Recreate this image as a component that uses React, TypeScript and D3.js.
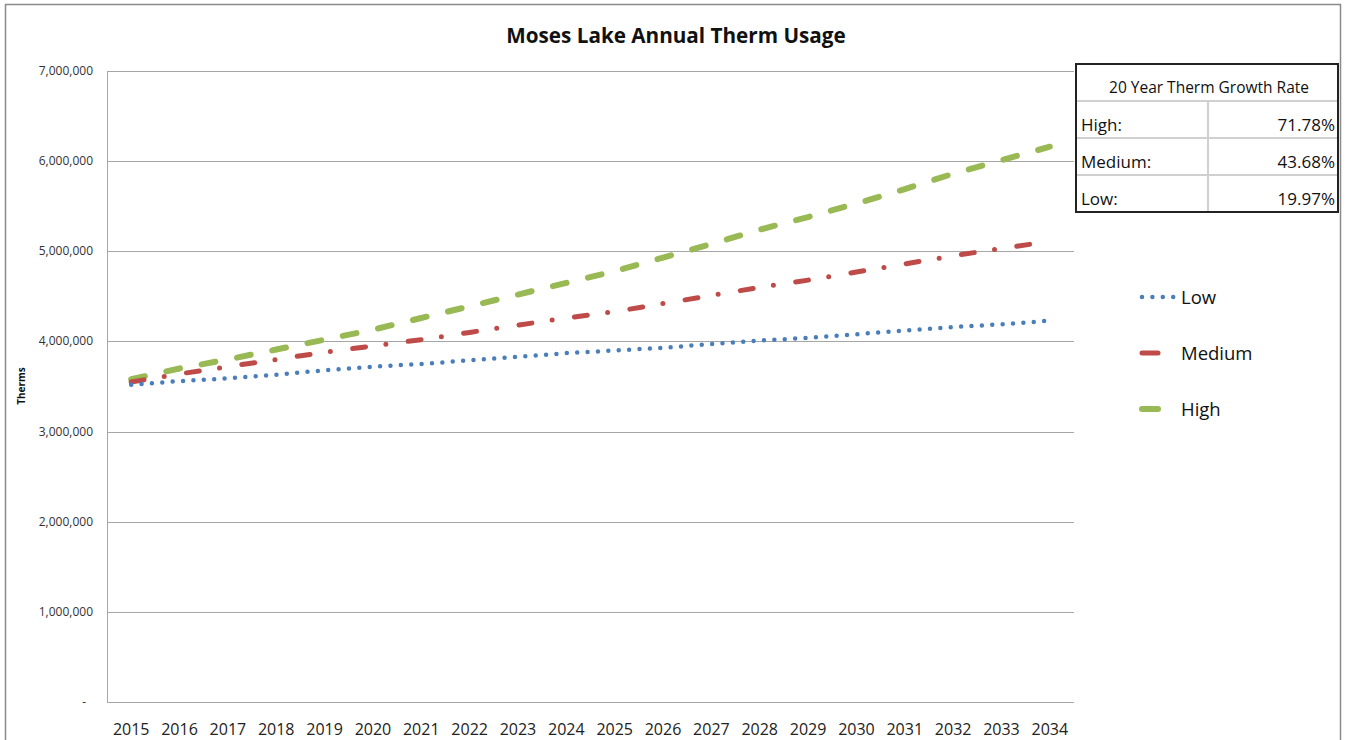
import { useEffect, useRef } from 'react';
import * as d3 from 'd3';

const years = ['2015', '2016', '2017', '2018', '2019', '2020', '2021', '2022', '2023', '2024',
    '2025', '2026', '2027', '2028', '2029', '2030', '2031', '2032', '2033', '2034'];
const lowValues = [3520000, 3560000, 3590000, 3630000, 3680000, 3720000, 3750000, 3790000, 3830000, 3870000,
    3900000, 3930000, 3970000, 4010000, 4040000, 4080000, 4120000, 4160000, 4190000, 4230000];
const mediumValues = [3550000, 3640000, 3720000, 3800000, 3880000, 3950000, 4020000, 4100000, 4180000, 4260000,
    4330000, 4420000, 4510000, 4600000, 4680000, 4770000, 4860000, 4950000, 5030000, 5110000];
const highValues = [3580000, 3700000, 3800000, 3910000, 4020000, 4130000, 4260000, 4390000, 4520000, 4650000,
    4780000, 4930000, 5080000, 5240000, 5380000, 5530000, 5690000, 5860000, 6010000, 6160000];
const yTicks = [0, 1000000, 2000000, 3000000, 4000000, 5000000, 6000000, 7000000];
const growthLabels = ['High:', 'Medium:', 'Low:'];
const growthRates = ['71.78%', '43.68%', '19.97%'];

const FONT = "'Open Sans', sans-serif";

export default function App() {
    const ref = useRef<SVGSVGElement>(null);

    useEffect(() => {
        const svg = d3.select(ref.current);
        svg.selectAll('*').remove();

        const width = 1348;
        const height = 740;
        const margin = { top: 71, right: 274, bottom: 38, left: 107 };
        const plotW = width - margin.left - margin.right;
        const plotH = height - margin.top - margin.bottom;

        svg.append('rect').attr('width', width).attr('height', height).attr('fill', '#fff');
        // outer chart frame
        svg.append('rect')
            .attr('x', 5.5).attr('y', 4.5).attr('width', 1335).attr('height', 780)
            .attr('fill', 'none').attr('stroke', '#8a8a8a').attr('stroke-width', 1.5);

        const x = d3.scaleBand().domain(years).range([0, plotW]);
        const y = d3.scaleLinear().domain([0, 7000000]).range([plotH, 0]);

        const g = svg.append('g').attr('transform', `translate(${margin.left},${margin.top})`);

        // gridlines
        g.selectAll('line.grid')
            .data(yTicks)
            .join('line')
            .attr('class', 'grid')
            .attr('x1', 0).attr('x2', plotW)
            .attr('y1', (d) => Math.round(y(d)) + 0.5).attr('y2', (d) => Math.round(y(d)) + 0.5)
            .attr('stroke', '#a6a6a6').attr('stroke-width', 1);
        g.append('line')
            .attr('x1', 0.5).attr('x2', 0.5).attr('y1', 0).attr('y2', plotH)
            .attr('stroke', '#a6a6a6');

        // y labels
        const fmt = d3.format(',');
        g.selectAll('text.ylab')
            .data(yTicks)
            .join('text')
            .attr('class', 'ylab')
            .attr('x', (d) => (d === 0 ? -21 : -14))
            .attr('y', (d) => y(d) + 4)
            .attr('text-anchor', 'end')
            .attr('font-family', FONT)
            .attr('font-size', 12)
            .attr('fill', '#333')
            .text((d) => (d === 0 ? '-' : fmt(d)));

        // x labels
        g.selectAll('text.xlab')
            .data(years)
            .join('text')
            .attr('class', 'xlab')
            .attr('x', (d) => (x(d) || 0) + x.bandwidth() / 2)
            .attr('y', plotH + 33)
            .attr('text-anchor', 'middle')
            .attr('font-family', FONT)
            .attr('font-size', 16)
            .attr('fill', '#222')
            .text((d) => d);

        // axis title
        svg.append('text')
            .attr('transform', 'translate(25,386) rotate(-90)')
            .attr('text-anchor', 'middle')
            .attr('font-family', FONT)
            .attr('font-size', 10)
            .attr('font-weight', 'bold')
            .attr('fill', '#111')
            .text('Therms');

        // title
        svg.append('text')
            .attr('x', 676).attr('y', 43)
            .attr('text-anchor', 'middle')
            .attr('font-family', FONT)
            .attr('font-size', 20.7)
            .attr('font-weight', 'bold')
            .attr('fill', '#111')
            .text('Moses Lake Annual Therm Usage');

        const line = d3.line<number>()
            .x((_, i) => (x(years[i]) || 0) + x.bandwidth() / 2)
            .y((d) => y(d));

        const series = [
            { name: 'High', values: highValues, color: '#98b954', w: 6, dash: '14 22' },
            { name: 'Medium', values: mediumValues, color: '#be4b48', w: 5, dash: '13 20.5 0 22.5' },
            { name: 'Low', values: lowValues, color: '#4a7ebb', w: 4.5, dash: '0 10.4' },
        ];

        series.forEach((s) => {
            g.append('path')
                .datum(s.values)
                .attr('d', line)
                .attr('fill', 'none')
                .attr('stroke', s.color)
                .attr('stroke-width', s.w)
                .attr('stroke-linecap', 'round')
                .attr('stroke-dasharray', s.dash);
        });

        // legend
        const legend = [
            { name: 'Low', color: '#4a7ebb', w: 4.5, dash: '0 10.4', x2: 1174 },
            { name: 'Medium', color: '#be4b48', w: 5, dash: null, x2: 1158 },
            { name: 'High', color: '#98b954', w: 6, dash: null, x2: 1158 },
        ];
        legend.forEach((l, i) => {
            const ly = 297 + i * 56;
            svg.append('line')
                .attr('x1', 1142).attr('x2', l.x2)
                .attr('y1', ly).attr('y2', ly)
                .attr('stroke', l.color)
                .attr('stroke-width', l.w)
                .attr('stroke-linecap', 'round')
                .attr('stroke-dasharray', l.dash);
            svg.append('text')
                .attr('x', 1181).attr('y', ly + 7)
                .attr('font-family', FONT)
                .attr('font-size', 18.5)
                .attr('fill', '#111')
                .text(l.name);
        });

        // growth rate table
        const tx = 1076, ty = 64, tw = 262, rowH = 37;
        const table = svg.append('g');
        table.append('rect')
            .attr('x', tx).attr('y', ty).attr('width', tw).attr('height', 148)
            .attr('fill', '#fff');
        [101, 138, 175].forEach((ry) => {
            table.append('line')
                .attr('x1', tx).attr('x2', tx + tw).attr('y1', ry).attr('y2', ry)
                .attr('stroke', '#d0d0d0').attr('stroke-width', 2);
        });
        table.append('line')
            .attr('x1', 1208).attr('x2', 1208).attr('y1', 101).attr('y2', ty + 148)
            .attr('stroke', '#d0d0d0').attr('stroke-width', 2);
        table.append('rect')
            .attr('x', tx).attr('y', ty).attr('width', tw).attr('height', 148)
            .attr('fill', 'none').attr('stroke', '#222').attr('stroke-width', 2);
        table.append('text')
            .attr('x', 1209).attr('y', ty + 29)
            .attr('text-anchor', 'middle')
            .attr('font-family', FONT)
            .attr('font-size', 15.5)
            .attr('fill', '#111')
            .text('20 Year Therm Growth Rate');
        growthLabels.forEach((lab, i) => {
            const by = ty + rowH * (i + 1) + 30;
            table.append('text')
                .attr('x', 1081).attr('y', by)
                .attr('font-family', FONT)
                .attr('font-size', 17)
                .attr('fill', '#111')
                .text(lab);
            table.append('text')
                .attr('x', 1335).attr('y', by)
                .attr('text-anchor', 'end')
                .attr('font-family', FONT)
                .attr('font-size', 17)
                .attr('fill', '#111')
                .text(growthRates[i]);
        });
    }, []);

    return (
        <div style={{ position: 'fixed', left: 0, top: 0 }}>
            <svg ref={ref} width={1348} height={740} style={{ display: 'block' }}></svg>
        </div>
    );
}
